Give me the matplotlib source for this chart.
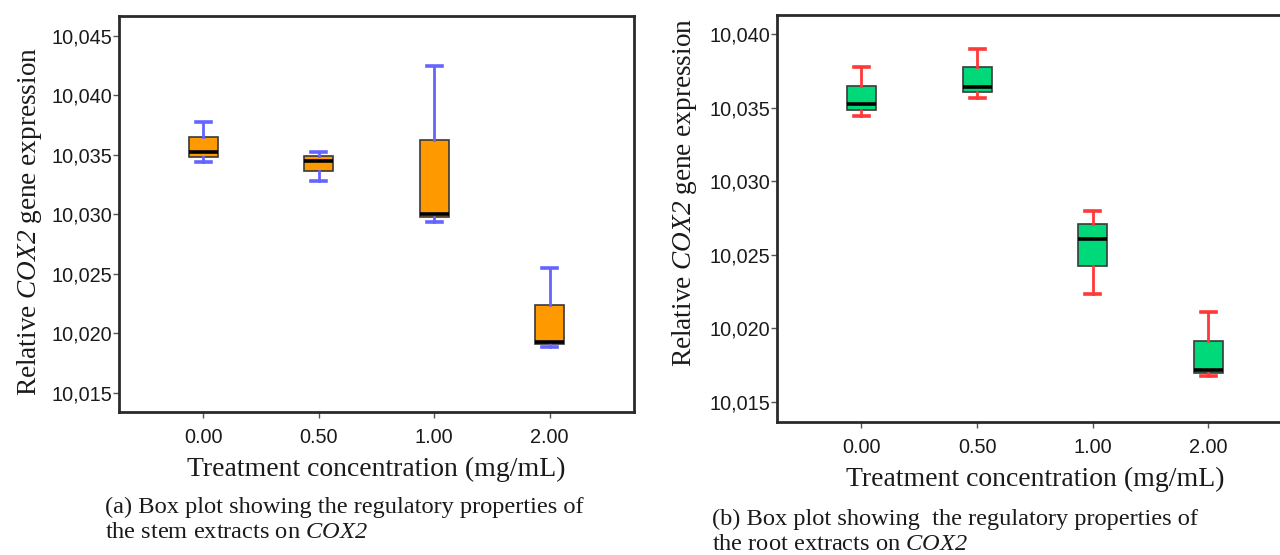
import matplotlib
matplotlib.use("Agg")
import matplotlib.pyplot as plt
from matplotlib.ticker import FuncFormatter, FixedLocator

# treatment groups
categories = ["0.00", "0.50", "1.00", "2.00"]

# (a) stem extracts
stem_whislo = [10.03443, 10.03285, 10.02940, 10.01885]
stem_q1 = [10.03485, 10.03365, 10.02980, 10.01910]
stem_med = [10.03522, 10.03447, 10.03006, 10.01929]
stem_q3 = [10.03650, 10.03487, 10.03624, 10.02237]
stem_whishi = [10.03775, 10.03525, 10.04247, 10.02547]

# (b) root extracts
root_whislo = [10.03443, 10.03564, 10.02230, 10.01674]
root_q1 = [10.03486, 10.03605, 10.02420, 10.01694]
root_med = [10.03528, 10.03644, 10.02608, 10.01716]
root_q3 = [10.03651, 10.03777, 10.02706, 10.01912]
root_whishi = [10.03777, 10.03903, 10.02800, 10.02113]

y_ticks = [10.015, 10.020, 10.025, 10.030, 10.035, 10.040, 10.045]

# only the gene name goes through mathtext, so italic for all of it
plt.rcParams['mathtext.fontset'] = 'custom'
plt.rcParams['mathtext.rm'] = 'Liberation Serif:italic'
plt.rcParams['mathtext.it'] = 'Liberation Serif:italic'

serif = 'Liberation Serif'
sans = 'Liberation Sans'


def make_stats(lo, q1, med, q3, hi):
    return [dict(whislo=lo[i], q1=q1[i], med=med[i], q3=q3[i], whishi=hi[i],
                 fliers=[], label=categories[i]) for i in range(len(categories))]


def draw_panel(ax, stats, face, whisk, ylim, yticks, label_xy):
    ax.bxp(stats, positions=range(len(stats)), widths=0.25, patch_artist=True,
           showfliers=False,
           boxprops=dict(facecolor=face, edgecolor='#3a3a3a', linewidth=1.2),
           medianprops=dict(color='black', linewidth=2.6, solid_capstyle='butt'),
           whiskerprops=dict(color=whisk, linewidth=2.0),
           capprops=dict(color=whisk, linewidth=2.6),
           capwidths=0.13)
    ax.set_xlim(-0.73, 3.73)
    ax.set_ylim(*ylim)
    ax.yaxis.set_major_locator(FixedLocator(yticks))
    ax.yaxis.set_major_formatter(FuncFormatter(lambda v, p: f"{v:.3f}".replace('.', ',')))
    ax.set_xticks(range(len(categories)))
    ax.set_xticklabels(categories)
    for s in ax.spines.values():
        s.set_linewidth(2.0)
        s.set_color('#2a2a2a')
    ax.tick_params(axis='both', direction='out', length=4, width=1.0,
                   color='#555555', labelsize=14.3, labelcolor='#1a1a1a')
    ax.tick_params(axis='y', pad=1)
    ax.tick_params(axis='x', pad=8)
    for t in ax.get_xticklabels() + ax.get_yticklabels():
        t.set_fontfamily(sans)
    ax.set_xlabel("Treatment concentration (mg/mL)", fontfamily=serif,
                  fontsize=20, color='#1a1a1a', labelpad=7)
    ax.set_ylabel(r"Relative $COX2$ gene expression", fontfamily=serif,
                  fontsize=19.6, color='#1a1a1a')
    ax.yaxis.set_label_coords(label_xy[0], label_xy[1])


fig = plt.figure(figsize=(12.8, 5.55), dpi=100)

ax1 = fig.add_axes([0.093, 0.258, 0.4023, 0.7135])
draw_panel(ax1, make_stats(stem_whislo, stem_q1, stem_med, stem_q3, stem_whishi),
           '#ff9900', '#6464ff', (10.0134, 10.0467), y_ticks, (-0.146, 0.48))

ax2 = fig.add_axes([0.607, 0.240, 0.403, 0.733])
draw_panel(ax2, make_stats(root_whislo, root_q1, root_med, root_q3, root_whishi),
           '#00d97a', '#ff3838', (10.01362, 10.04132), y_ticks[:-1], (-0.152, 0.563))

cap = dict(fontfamily=serif, fontsize=17.6, color='#1a1a1a', ha='left', va='center')
fig.text(0.082, 1 - 507 / 555, "(a) Box plot showing the regulatory properties of", **cap)
fig.text(0.082, 1 - 533 / 555, r"the stem extracts on $COX2$", **cap)
fig.text(0.556, 1 - 519 / 555, "(b) Box plot showing  the regulatory properties of", **cap)
fig.text(0.556, 1 - 545 / 555, r"the root extracts on $COX2$", **cap)

fig.savefig("out.png", dpi=100, facecolor='white')
